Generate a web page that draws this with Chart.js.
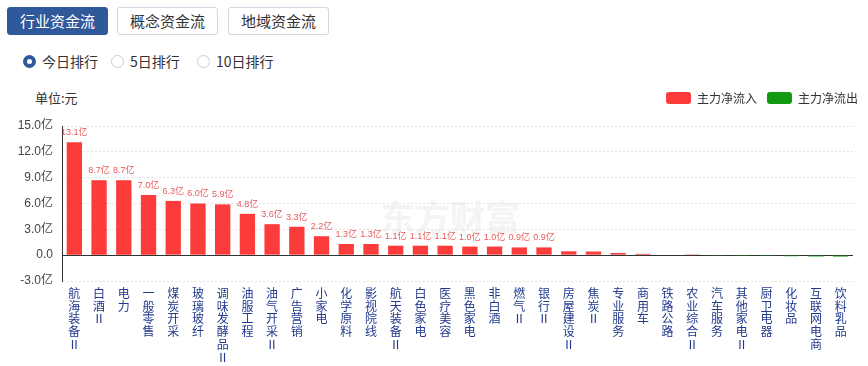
<!DOCTYPE html>
<html>
<head>
<meta charset="utf-8">
<script src="https://cdn.jsdelivr.net/npm/chart.js@4"></script>
<style>
  body { margin:0; width:868px; height:366px; position:relative; overflow:hidden; background:#fff;
         font-family:"Noto Sans CJK SC", sans-serif; color:#333; }
  .tab { position:absolute; top:7px; height:28px; width:101px; box-sizing:border-box;
         border:1px solid #cfd8e4; border-radius:3px; font-size:15px; line-height:26px;
         text-align:center; background:#fff; color:#333; }
  .tab.on { background:#30599b; border-color:#30599b; color:#fff; }
  .radio { position:absolute; top:51px; font-size:14px; line-height:20px; color:#333; }
  .radio i { position:absolute; left:-19px; top:4px; width:13px; height:13px; border-radius:50%;
             box-sizing:border-box; border:1px solid #c6cfdc; }
  .radio.on i { border:4px solid #30599b; }
  #unit { position:absolute; left:35px; top:88px; font-size:13px; color:#333; }
  #wm { position:absolute; left:380px; top:190px; font-size:35px; font-weight:bold; color:#f3f4f5; }
  #chart { position:absolute; left:0; top:82px; }
</style>
</head>
<body>
<div class="tab on" style="left:7px">行业资金流</div>
<div class="tab" style="left:117px">概念资金流</div>
<div class="tab" style="left:228px">地域资金流</div>
<div class="radio on" style="left:42px"><i></i>今日排行</div>
<div class="radio" style="left:130px"><i></i>5日排行</div>
<div class="radio" style="left:216px"><i></i>10日排行</div>
<div id="unit">单位:元</div>
<div id="wm">东方财富</div>
<canvas id="chart" width="868" height="284"></canvas>
<script>
const categories = ['航海装备Ⅱ', '白酒Ⅱ', '电力', '一般零售', '煤炭开采', '玻璃玻纤', '调味发酵品Ⅱ', '油服工程',
  '油气开采Ⅱ', '广告营销', '小家电', '化学原料', '影视院线', '航天装备Ⅱ', '白色家电', '医疗美容',
  '黑色家电', '非白酒', '燃气Ⅱ', '银行Ⅱ', '房屋建设Ⅱ', '焦炭Ⅱ', '专业服务', '商用车',
  '铁路公路', '农业综合Ⅱ', '汽车服务', '其他家电Ⅱ', '厨卫电器', '化妆品', '互联网电商', '饮料乳品'];
// 主力净流入/流出, 单位: 亿元
const netFlow = [13.1, 8.7, 8.7, 7.0, 6.3, 6.0, 5.9, 4.8,
  3.6, 3.3, 2.2, 1.3, 1.3, 1.1, 1.1, 1.1,
  1.0, 1.0, 0.9, 0.9, 0.45, 0.42, 0.25, 0.15,
  0.06, 0.02, -0.03, -0.1, -0.1, -0.12, -0.15, -0.16];
const yMin = -3, yMax = 15, yStep = 3;
const labelMin = 0.85;

const RED = '#fc3b3b';
const GREEN = '#119a12';

const valueLabels = {
  id: 'valueLabels',
  afterDatasetsDraw(chart) {
    const ctx = chart.ctx;
    const meta = chart.getDatasetMeta(0);
    ctx.save();
    ctx.font = '9px "Liberation Sans", "Noto Sans CJK SC"';
    ctx.fillStyle = '#e8595b';
    ctx.textAlign = 'center';
    ctx.textBaseline = 'bottom';
    meta.data.forEach((bar, i) => {
      if (netFlow[i] >= labelMin) ctx.fillText(netFlow[i].toFixed(1) + '亿', bar.x, bar.y - 5);
    });
    ctx.restore();
  }
};

const legendHeight = {
  id: 'legendHeight',
  beforeInit(chart) {
    const fit = chart.legend.fit;
    chart.legend.fit = function () { fit.call(this); this.height = 44; };
  }
};

new Chart(document.getElementById('chart').getContext('2d'), {
  type: 'bar',
  data: {
    labels: categories.map(c => Array.from(c)),
    datasets: [{
      label: '主力净流入',
      data: netFlow.map(v => v >= 0 ? v : null),
      backgroundColor: RED
    }, {
      label: '主力净流出',
      data: netFlow.map(v => v < 0 ? v : null),
      backgroundColor: GREEN
    }]
  },
  options: {
    responsive: false,
    animation: false,
    layout: { padding: 0 },
    datasets: { bar: { barPercentage: 0.62, categoryPercentage: 1 } },
    plugins: {
      tooltip: { enabled: false },
      legend: {
        position: 'top',
        align: 'end',
        labels: {
          boxWidth: 25, boxHeight: 12, useBorderRadius: true, borderRadius: 3,
          padding: 10, color: '#333', font: { size: 12, family: '"Noto Sans CJK SC"' }
        }
      }
    },
    scales: {
      x: {
        stacked: true,
        grid: { display: false, drawTicks: false },
        border: { display: false },
        ticks: {
          autoSkip: false, maxRotation: 0, padding: 6, color: '#22398e',
          font: { size: 12, family: '"Noto Sans CJK SC"', lineHeight: 1.06 }
        },
        afterFit(s) { s.height = 85; }
      },
      y: {
        stacked: true,
        min: yMin, max: yMax,
        grid: {
          drawTicks: false,
          color: c => c.tick && c.tick.value === 0 ? '#333' : '#e2e2e2'
        },
        border: {
          display: true, color: '#333', width: 1,
          dash: c => c.tick && c.tick.value === 0 ? [] : [2, 2]
        },
        ticks: {
          stepSize: yStep, padding: 9, color: '#444',
          font: { size: 12, family: '"Liberation Sans", "Noto Sans CJK SC"' },
          callback: v => v === 0 ? '0.0' : v.toFixed(1) + '亿'
        },
        afterFit(s) { s.width = 62; }
      },
      yr: {
        position: 'right',
        grid: { display: false, drawTicks: false },
        border: { display: false },
        ticks: { display: false },
        afterFit(s) { s.width = 15; }
      }
    }
  },
  plugins: [valueLabels, legendHeight]
});
</script>
</body>
</html>
